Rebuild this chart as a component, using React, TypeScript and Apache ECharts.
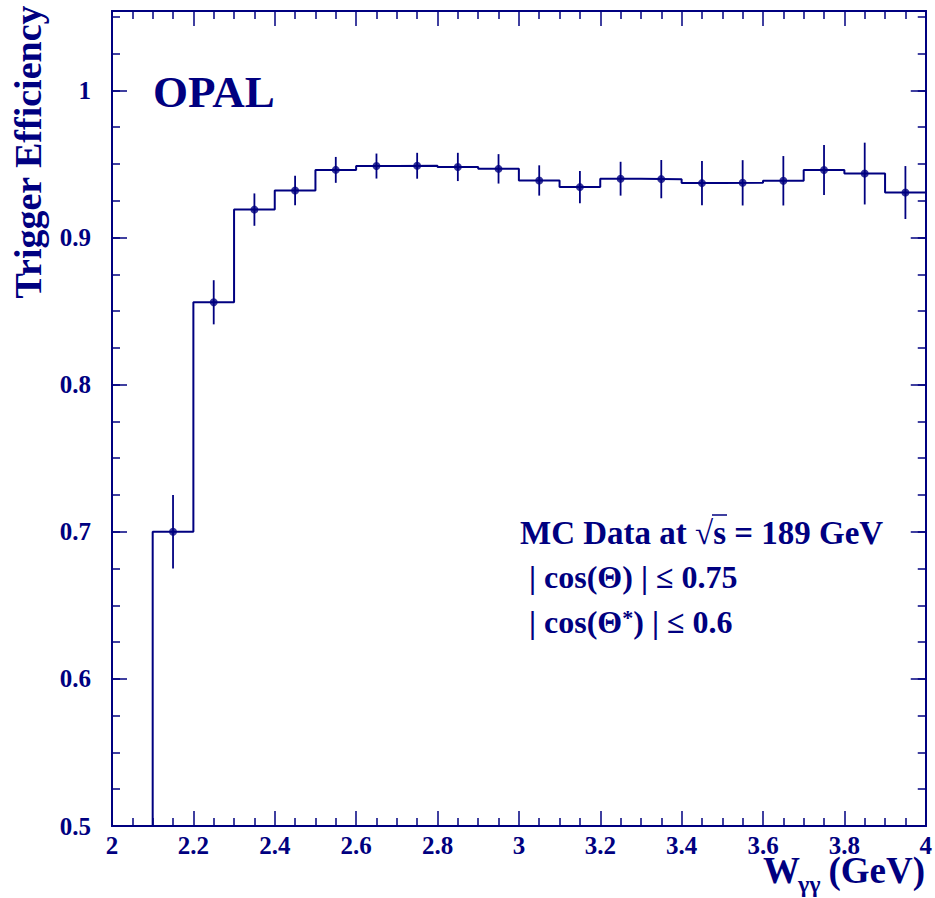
import React, { useEffect, useRef } from "react";
import * as echarts from "echarts";

// Bin edges of W_gammagamma (GeV)
const binEdges = [2.1, 2.2, 2.3, 2.4, 2.5, 2.6, 2.7, 2.8, 2.9, 3.0, 3.1, 3.2, 3.3, 3.4, 3.5, 3.6, 3.7, 3.8, 3.9, 4.0];
// Trigger efficiency per bin
const efficiency = [0.700, 0.856, 0.919, 0.932, 0.946, 0.9486, 0.9488, 0.948, 0.9467, 0.9388, 0.9343, 0.940, 0.9397, 0.937, 0.9372, 0.9386, 0.9459, 0.9435, 0.9306];
// Statistical errors per bin
const errors = [0.025, 0.015, 0.011, 0.010, 0.0088, 0.0085, 0.0088, 0.0096, 0.010, 0.0103, 0.011, 0.0115, 0.013, 0.015, 0.0154, 0.0168, 0.017, 0.021, 0.018];

const X_MIN = 2;
const X_MAX = 4;
const Y_MIN = 0.5;
const Y_MAX = 1.054;

const NAVY = "#000080";
const SERIF = '"Liberation Serif", "Times New Roman", serif';

export default function App() {
  const ref = useRef<HTMLDivElement>(null);

  useEffect(() => {
    if (!ref.current) return;
    const chart = echarts.init(ref.current, undefined, { renderer: "svg" });

    const centers = efficiency.map((_, i) => (binEdges[i] + binEdges[i + 1]) / 2);
    const histLine: number[][] = [[binEdges[0], Y_MIN]];
    efficiency.forEach((v, i) => {
      histLine.push([binEdges[i], v]);
      histLine.push([binEdges[i + 1], v]);
    });
    const points = efficiency.map((v, i) => [centers[i], v]);
    const bars = efficiency.map((v, i) => [centers[i], v - errors[i], v + errors[i]]);

    const labelStyle = {
      color: NAVY,
      fontFamily: SERIF,
      fontWeight: "bold" as const,
      fontSize: 25,
    };

    const xAxisBase = (pos: "bottom" | "top", showLabel: boolean) => ({
      type: "value" as const,
      position: pos,
      min: X_MIN,
      max: X_MAX,
      interval: 0.2,
      axisLine: { show: true, onZero: false, lineStyle: { color: NAVY, width: 2 } },
      axisTick: { show: true, inside: true, length: 15, lineStyle: { color: NAVY, width: 1.5 } },
      minorTick: { show: true, splitNumber: 4, length: 8, lineStyle: { color: NAVY, width: 1.5 } },
      splitLine: { show: false },
      minorSplitLine: { show: false },
      axisLabel: { show: showLabel, margin: 7, ...labelStyle },
    });

    const yAxisBase = (pos: "left" | "right", major: boolean, showLabel: boolean) => ({
      type: "value" as const,
      position: pos,
      min: Y_MIN,
      max: Y_MAX,
      interval: major ? 0.1 : 0.025,
      axisLine: { show: true, onZero: false, lineStyle: { color: NAVY, width: 2 } },
      axisTick: { show: true, inside: true, length: major ? 15 : 8, lineStyle: { color: NAVY, width: 1.5 } },
      splitLine: { show: false },
      axisLabel: { show: showLabel, margin: 21, showMaxLabel: false, ...labelStyle },
    });

    const textBase = (text: string, size: number) => ({
      text,
      font: `bold ${size}px ${SERIF}`,
      fill: NAVY,
    });

    chart.setOption({
      animation: false,
      backgroundColor: "#ffffff",
      grid: { left: 112, right: 9, top: 11, bottom: 72, containLabel: false },
      xAxis: [xAxisBase("bottom", true), xAxisBase("top", false)],
      yAxis: [
        yAxisBase("left", true, true),
        yAxisBase("left", false, false),
        yAxisBase("right", true, false),
        yAxisBase("right", false, false),
      ],
      series: [
        {
          type: "line",
          data: histLine,
          xAxisIndex: 0,
          yAxisIndex: 0,
          symbol: "none",
          lineStyle: { color: NAVY, width: 2 },
          clip: true,
          silent: true,
        },
        {
          type: "custom",
          xAxisIndex: 0,
          yAxisIndex: 0,
          data: bars,
          encode: { x: 0, y: [1, 2] },
          renderItem: (params: any, api: any) => {
            const x = api.value(0);
            const p1 = api.coord([x, api.value(1)]);
            const p2 = api.coord([x, api.value(2)]);
            return {
              type: "line",
              shape: { x1: p1[0], y1: p1[1], x2: p2[0], y2: p2[1] },
              style: { stroke: NAVY, lineWidth: 1.8 },
            };
          },
          silent: true,
        },
        {
          type: "scatter",
          data: points,
          xAxisIndex: 0,
          yAxisIndex: 0,
          symbol: "circle",
          symbolSize: 8,
          itemStyle: { color: NAVY },
          silent: true,
        },
      ],
      graphic: [
        {
          type: "text",
          x: 153,
          y: 92,
          style: { ...textBase("OPAL", 45), textAlign: "left", textVerticalAlign: "middle", align: "left", verticalAlign: "middle" },
        },
        {
          type: "text",
          x: 28,
          y: 152,
          rotation: Math.PI / 2,
          style: { ...textBase("Trigger Efficiency", 38), textAlign: "center", textVerticalAlign: "middle", align: "center", verticalAlign: "middle" },
        },
        {
          type: "text",
          x: 520,
          y: 533,
          style: { ...textBase("MC Data at √s = 189 GeV", 33), textAlign: "left", textVerticalAlign: "middle", align: "left", verticalAlign: "middle" },
        },
        {
          type: "line",
          shape: { x1: 712, y1: 515, x2: 727, y2: 515 },
          style: { stroke: NAVY, lineWidth: 1.5 },
        },
        {
          type: "text",
          x: 529,
          y: 577,
          style: { ...textBase("| cos(Θ) | ≤ 0.75", 32), textAlign: "left", textVerticalAlign: "middle", align: "left", verticalAlign: "middle" },
        },
        {
          type: "text",
          x: 529,
          y: 622,
          style: {
            ...textBase("| cos(Θ{sup|*}) | ≤ 0.6", 32),
            textAlign: "left",
            textVerticalAlign: "middle",
            align: "left",
            verticalAlign: "middle",
            rich: {
              sup: { font: `bold 22px ${SERIF}`, fill: NAVY, verticalAlign: "top", lineHeight: 32 },
            },
          },
        },
        {
          type: "text",
          x: 763,
          y: 870,
          style: { ...textBase("W", 37), textAlign: "left", textVerticalAlign: "middle", align: "left", verticalAlign: "middle" },
        },
        {
          type: "text",
          x: 798,
          y: 884,
          style: { ...textBase("γγ", 24), textAlign: "left", textVerticalAlign: "middle", align: "left", verticalAlign: "middle" },
        },
        {
          type: "text",
          x: 925,
          y: 870,
          style: { ...textBase("(GeV)", 37), textAlign: "right", textVerticalAlign: "middle", align: "right", verticalAlign: "middle" },
        },
      ],
    });

    return () => chart.dispose();
  }, []);

  return (
    <div
      ref={ref}
      style={{ position: "absolute", left: 0, top: 0, width: 935, height: 898, background: "#fff" }}
    />
  );
}
